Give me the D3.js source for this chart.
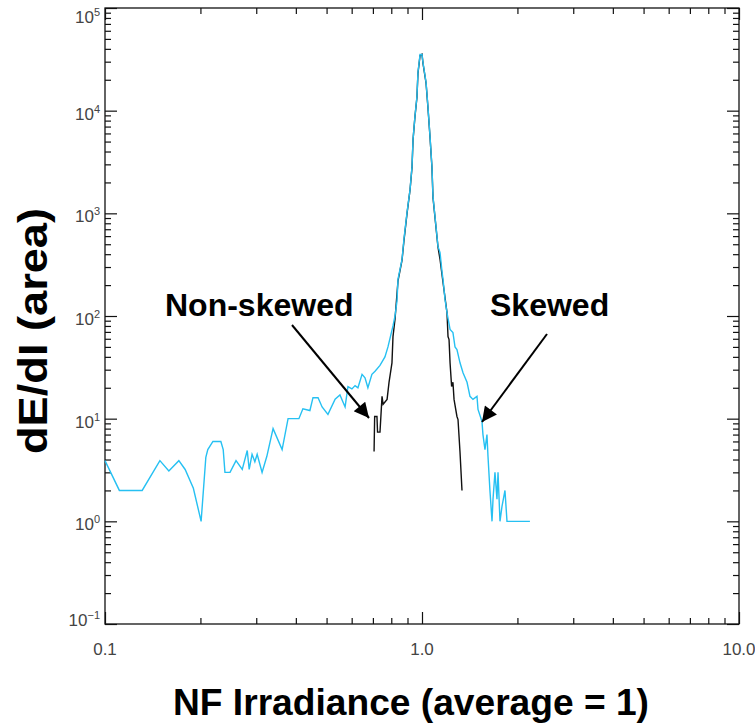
<!DOCTYPE html>
<html>
<head>
<meta charset="utf-8">
<script src="https://cdn.jsdelivr.net/npm/d3@7"></script>
<style>
  body { margin: 0; background: #fff; }
  svg { display: block; }
</style>
</head>
<body>
<svg id="chart"></svg>
<script>
// skewed beam (blue)
const skewedIrr = [0.100, 0.111, 0.131, 0.149, 0.159, 0.171, 0.179, 0.190, 0.201, 0.208, 0.211, 0.219, 0.232, 0.236, 0.239, 0.248, 0.259, 0.271, 0.281, 0.285, 0.291, 0.297, 0.302, 0.313, 0.324, 0.339, 0.362, 0.378, 0.409, 0.421, 0.443, 0.453, 0.470, 0.484, 0.505, 0.532, 0.551, 0.572, 0.584, 0.601, 0.615, 0.628, 0.647, 0.661, 0.675, 0.695, 0.711, 0.737, 0.764, 0.781, 0.810, 0.822, 0.834, 0.840, 0.865, 0.877, 0.897, 0.917, 0.930, 0.937, 0.950, 0.964, 0.971, 0.986, 1.000, 1.007, 1.030, 1.044, 1.060, 1.075, 1.083, 1.107, 1.123, 1.140, 1.157, 1.165, 1.182, 1.199, 1.226, 1.252, 1.271, 1.289, 1.318, 1.347, 1.387, 1.417, 1.448, 1.491, 1.502, 1.546, 1.557, 1.580, 1.603, 1.615, 1.638, 1.663, 1.675, 1.699, 1.724, 1.737, 1.762, 1.788, 1.827, 1.854, 2.144, 2.190];
const skewedArea = [3.9, 2, 2, 3.9, 3.1, 3.9, 3.2, 2.1, 1, 4.2, 5, 6, 6, 5, 3, 3, 3.9, 3.2, 4.9, 3.2, 4.5, 3.8, 4.5, 3, 4.3, 8, 5, 10, 10, 12.5, 12, 16, 16, 13, 11, 15.5, 17, 13, 20.5, 19.5, 21, 20, 27, 25, 20, 27, 29, 33, 40, 50, 80, 100, 140, 227, 356, 557, 1020, 1710, 2860, 5240, 8770, 13750, 23550, 35250, 35250, 29450, 18830, 10990, 5610, 2860, 1462, 745, 476, 415, 266, 227, 145, 108, 74, 69, 50, 47, 35, 28, 22.6, 16.5, 15.4, 16.5, 12.3, 9.4, 7, 5, 7, 4.3, 2, 1, 1.64, 3, 1.64, 3, 1, 1.4, 2, 1, 1, 1];

// non-skewed beam (black)
const nonSkewedIrr = [0.706, 0.709, 0.721, 0.724, 0.737, 0.748, 0.754, 0.776, 0.787, 0.804, 0.810, 0.822, 0.840, 0.865, 0.877, 0.897, 0.917, 0.930, 0.937, 0.950, 0.964, 0.971, 0.986, 1.000, 1.007, 1.030, 1.044, 1.060, 1.075, 1.083, 1.107, 1.123, 1.140, 1.165, 1.199, 1.208, 1.217, 1.226, 1.240, 1.252, 1.262, 1.289, 1.299, 1.318, 1.337];
const nonSkewedArea = [4.8, 10.5, 10.5, 7.4, 7.4, 16.5, 13.8, 15.4, 22.6, 35, 63, 93, 220, 350, 540, 1000, 1700, 2800, 5200, 8700, 13500, 23000, 34500, 35500, 29000, 18500, 10800, 5500, 2800, 1430, 730, 470, 356, 212, 108, 63, 59, 35, 20.6, 22.6, 15.4, 10.5, 9.8, 4.7, 2];

const xMajor = [0.1, 1, 10];
const yMajor = [1e-1, 1e0, 1e1, 1e2, 1e3, 1e4, 1e5];

const W = 755, H = 725;
const m = {left: 105, right: 739, top: 8, bottom: 624};

const svg = d3.select("#chart").attr("width", W).attr("height", H);

const x = d3.scaleLog().domain([0.1, 10]).range([m.left, m.right]);
const y = d3.scaleLog().domain([0.1, 1e5]).range([m.bottom, m.top]);

// minor ticks 2..9 in every decade
const xMinor = [];
[0.1, 1].forEach(d => { for (let k = 2; k <= 9; k++) xMinor.push(d * k); });
const yMinor = [];
yMajor.slice(0, -1).forEach(d => { for (let k = 2; k <= 9; k++) yMinor.push(d * k); });

function tickAxis(axis, values, size, tr) {
  const g = svg.append("g")
    .attr("transform", tr)
    .call(axis.tickValues(values).tickSize(-size).tickFormat(""));
  g.select(".domain").remove();
  g.selectAll("line").attr("stroke", "#111").attr("stroke-width", 1.2);
  return g;
}

tickAxis(d3.axisBottom(x), xMajor, 12, `translate(0,${m.bottom})`);
tickAxis(d3.axisBottom(x), xMinor, 6, `translate(0,${m.bottom})`);
tickAxis(d3.axisTop(x), xMajor, 12, `translate(0,${m.top})`);
tickAxis(d3.axisTop(x), xMinor, 6, `translate(0,${m.top})`);
tickAxis(d3.axisLeft(y), yMajor, 12, `translate(${m.left},0)`);
tickAxis(d3.axisLeft(y), yMinor, 6, `translate(${m.left},0)`);
tickAxis(d3.axisRight(y), yMajor, 12, `translate(${m.right},0)`);
tickAxis(d3.axisRight(y), yMinor, 6, `translate(${m.right},0)`);

svg.append("rect")
  .attr("x", m.left).attr("y", m.top)
  .attr("width", m.right - m.left).attr("height", m.bottom - m.top)
  .attr("fill", "none").attr("stroke", "#111").attr("stroke-width", 1.3);

// tick labels
svg.append("g").selectAll("text")
  .data(xMajor)
  .join("text")
  .attr("x", d => x(d))
  .attr("y", 655)
  .attr("text-anchor", "middle")
  .attr("font-family", "Liberation Sans, Arial, sans-serif")
  .attr("font-size", 17)
  .attr("fill", "#444")
  .text(d => d3.format(".1f")(d));

const yl = svg.append("g").selectAll("text")
  .data(yMajor)
  .join("text")
  .attr("x", m.left - 5)
  .attr("y", d => y(d) + (d === 1e5 ? 15 : d === 1e-1 ? 2 : 9))
  .attr("text-anchor", "end")
  .attr("font-family", "Liberation Sans, Arial, sans-serif")
  .attr("font-size", 17)
  .attr("fill", "#444");
yl.append("tspan").text("10");
yl.append("tspan")
  .attr("dy", -7)
  .attr("font-size", 11)
  .text(d => d3.format("d")(Math.round(Math.log10(d))).replace("-", "\u2212"));

// curves
const line = d3.line().x(d => x(d[0])).y(d => y(d[1]));

svg.append("path")
  .datum(d3.zip(nonSkewedIrr, nonSkewedArea))
  .attr("d", line)
  .attr("fill", "none")
  .attr("stroke", "#111")
  .attr("stroke-width", 1.4);

svg.append("path")
  .datum(d3.zip(skewedIrr, skewedArea))
  .attr("d", line)
  .attr("fill", "none")
  .attr("stroke", "#26c0f2")
  .attr("stroke-width", 1.4);

// annotations
svg.append("defs").append("marker")
  .attr("id", "head")
  .attr("viewBox", "0 0 10 10")
  .attr("refX", 10).attr("refY", 5)
  .attr("markerWidth", 18).attr("markerHeight", 15)
  .attr("markerUnits", "userSpaceOnUse")
  .attr("orient", "auto")
  .append("path")
  .attr("d", "M0,0 L10,5 L0,10 Z")
  .attr("fill", "#000");

const notes = [
  {text: "Non-skewed", tx: 165, ty: 316, from: [292, 325], to: [369, 418]},
  {text: "Skewed", tx: 490, ty: 316, from: [547, 334], to: [482, 422]}
];

notes.forEach(n => {
  svg.append("text")
    .attr("x", n.tx).attr("y", n.ty)
    .attr("font-family", "Liberation Sans, Arial, sans-serif")
    .attr("font-weight", "bold")
    .attr("font-size", 32)
    .attr("fill", "#000")
    .text(n.text);
  svg.append("line")
    .attr("x1", n.from[0]).attr("y1", n.from[1])
    .attr("x2", n.to[0]).attr("y2", n.to[1])
    .attr("stroke", "#000")
    .attr("stroke-width", 2)
    .attr("marker-end", "url(#head)");
});

// axis titles
svg.append("text")
  .attr("x", 411).attr("y", 715)
  .attr("text-anchor", "middle")
  .attr("font-family", "Liberation Sans, Arial, sans-serif")
  .attr("font-weight", "bold")
  .attr("font-size", 36)
  .attr("textLength", 476)
  .attr("lengthAdjust", "spacingAndGlyphs")
  .text("NF Irradiance (average = 1)");

svg.append("text")
  .attr("transform", "translate(47,331) rotate(-90)")
  .attr("text-anchor", "middle")
  .attr("font-family", "Liberation Sans, Arial, sans-serif")
  .attr("font-weight", "bold")
  .attr("font-size", 40)
  .attr("textLength", 246)
  .attr("lengthAdjust", "spacingAndGlyphs")
  .text("dE/dI (area)");
</script>
</body>
</html>
